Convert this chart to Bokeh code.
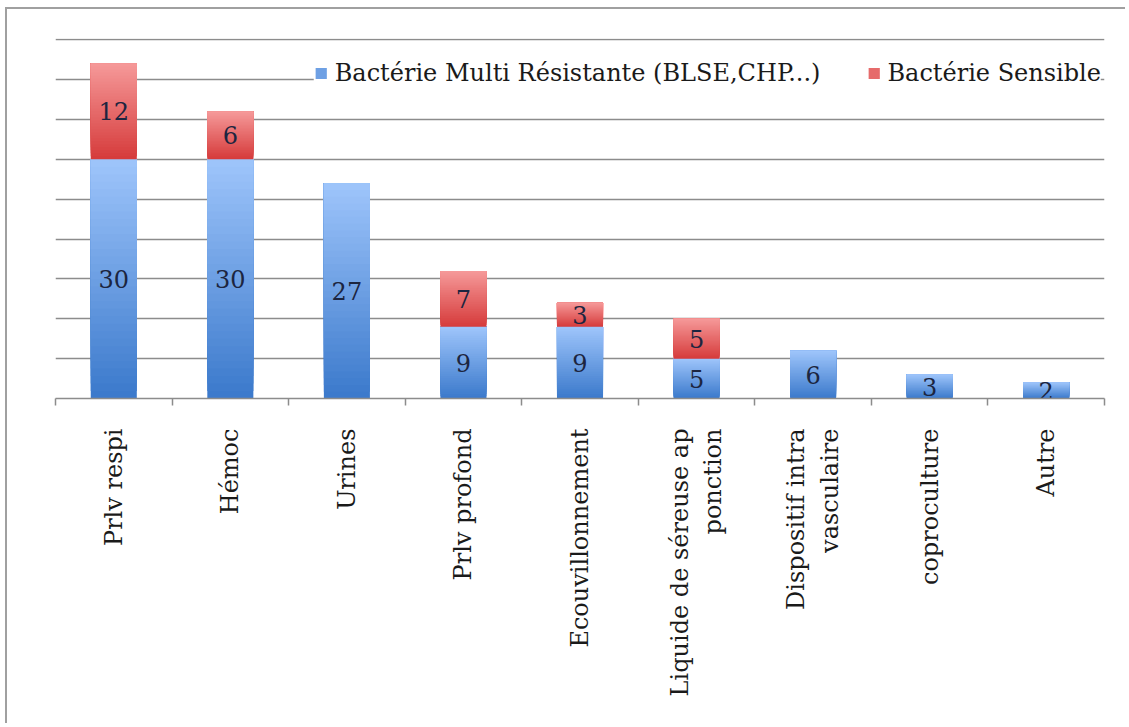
import math
from bokeh.plotting import figure
from bokeh.models import FixedTicker, ColumnDataSource, Legend, LegendItem, LinearAxis
from bokeh.core.properties import value
from bokeh.embed import file_html
from bokeh.resources import INLINE

categories = ["Prlv respi", "Hémoc", "Urines", "Prlv profond", "Ecouvillonnement",
              "Liquide de séreuse ap\nponction", "Dispositif intra\nvasculaire",
              "coproculture", "Autre"]
resistant = [30, 30, 27, 9, 9, 5, 6, 3, 2]
sensible = [12, 6, 0, 7, 3, 5, 0, 0, 0]
series_names = ["Bactérie Multi Résistante (BLSE,CHP...)", "Bactérie Sensible"]
y_ticks = [0, 5, 10, 15, 20, 25, 30, 35, 40, 45]

BLUE_TOP, BLUE_BOT = (157, 196, 250), (60, 122, 204)
RED_TOP, RED_BOT = (245, 152, 152), (214, 60, 60)
SERIF = "DejaVu Serif"
LAYERS = 32

n = len(categories)
xc = [i + 0.5 for i in range(n)]
bounds = list(range(n + 1))


def hexc(c):
    return "#%02x%02x%02x" % tuple(int(round(v)) for v in c)


def mix(a, b, t):
    return tuple(a[j] + (b[j] - a[j]) * t for j in range(3))


p = figure(width=1120, height=716, output_backend="svg", toolbar_location=None,
           x_range=(0, n), y_range=(0, y_ticks[-1] + 0.15),
           min_border_left=48, min_border_right=23, min_border_top=29,
           min_border_bottom=327, y_axis_location=None, x_axis_location=None)
p.styles = {"border-left": "2px solid #a0a0a0", "border-top": "2px solid #a0a0a0",
            "margin-left": "5px", "margin-top": "7px"}
p.outline_line_color = None
p.background_fill_color = "white"
p.border_fill_color = "white"

xaxis = LinearAxis(ticker=FixedTicker(ticks=xc, minor_ticks=bounds))
xaxis.major_label_overrides = {x: c for x, c in zip(xc, categories)}
xaxis.major_label_orientation = math.pi / 2
xaxis.major_label_text_font = SERIF
xaxis.major_label_text_font_size = "24px"
xaxis.major_label_text_color = "#1a1a1a"
xaxis.major_label_standoff = 23
xaxis.major_tick_line_color = None
xaxis.major_tick_out = 0
xaxis.major_tick_in = 0
xaxis.minor_tick_out = 7
xaxis.minor_tick_in = 0
xaxis.minor_tick_line_color = "#8c8c8c"
xaxis.minor_tick_line_width = 1.5
xaxis.axis_line_color = "#8c8c8c"
xaxis.axis_line_width = 1.5
p.add_layout(xaxis, "below")

p.xgrid.visible = False
p.ygrid.ticker = FixedTicker(ticks=y_ticks)
p.ygrid.grid_line_color = "#8c8c8c"
p.ygrid.grid_line_width = 1.5

bw = 0.395
top_s = [r + s for r, s in zip(resistant, sensible)]


def gradient_layers(bottoms, tops, c_top, c_bot):
    L, R, B, T, C = [], [], [], [], []
    count = 0
    for k in range(LAYERS):
        t = k / (LAYERS - 1)
        col = hexc(mix(c_bot, c_top, t))
        for i in range(n):
            h = tops[i] - bottoms[i]
            if h <= 0:
                continue
            L.append(xc[i] - bw / 2); R.append(xc[i] + bw / 2)
            B.append(bottoms[i] + h * k / LAYERS); T.append(tops[i]); C.append(col)
        if k == 0:
            count = len(L)
    return ColumnDataSource(dict(left=L, right=R, bottom=B, top=T, color=C)), count


src_r, cnt_r = gradient_layers([0] * n, resistant, BLUE_TOP, BLUE_BOT)
src_s, cnt_s = gradient_layers(resistant, top_s, RED_TOP, RED_BOT)
rb = p.quad(left="left", right="right", bottom="bottom", top="top", fill_color="color",
            line_color=None, source=src_r)
rs = p.quad(left="left", right="right", bottom="bottom", top="top", fill_color="color",
            line_color=None, source=src_s)

# value labels
lx, ly, lt = [], [], []
for i in range(n):
    if resistant[i] > 0:
        lx.append(xc[i]); ly.append(resistant[i] / 2); lt.append(str(resistant[i]))
    if sensible[i] > 0:
        lx.append(xc[i]); ly.append(resistant[i] + sensible[i] / 2); lt.append(str(sensible[i]))
p.text(x=lx, y=ly, text=lt, text_align="center", text_baseline="middle",
       text_font=value(SERIF), text_font_size="24px", text_color="#1c2540")

mid = LAYERS // 2
legend = Legend(items=[LegendItem(label=series_names[0], renderers=[rb], index=mid * cnt_r),
                       LegendItem(label=series_names[1], renderers=[rs], index=mid * cnt_s)],
                location="top_right", orientation="horizontal")
legend.label_text_font = SERIF
legend.label_text_font_size = "24px"
legend.label_text_color = "#1a1a1a"
legend.glyph_width = 14
legend.glyph_height = 14
legend.label_standoff = 7
legend.label_height = 64
legend.spacing = 46
legend.padding = 0
legend.margin = 3
legend.border_line_color = None
legend.background_fill_color = "white"
legend.background_fill_alpha = 1.0
p.add_layout(legend, "center")

open("out.html", "w").write(file_html(p, INLINE))
